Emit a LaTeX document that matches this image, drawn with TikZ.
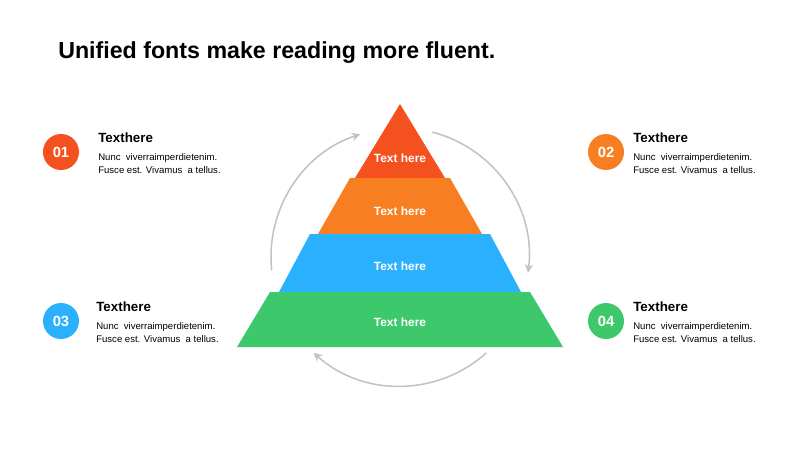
\documentclass[tikz,border=0pt]{standalone}
\usepackage{fontspec}
\setmainfont{Liberation Sans}
\usepackage{tikz}
\usetikzlibrary{positioning,arrows.meta,calc}
\definecolor{PyrRed}{HTML}{F4511E}
\definecolor{PyrOrange}{HTML}{F77F21}
\definecolor{PyrBlue}{HTML}{2BB0FE}
\definecolor{PyrGreen}{HTML}{3CC86B}
\definecolor{PyrGrey}{HTML}{BEC3CB}

\begin{document}
\begin{tikzpicture}[x=0.025cm,y=0.025cm,>={Stealth[length=6pt,width=6pt]},
 num/.style={circle,minimum size=0.9cm,inner sep=0pt,text=white,font=\bfseries\fontsize{10.5}{12}\selectfont},
 head/.style={anchor=west,inner sep=0pt,font=\bfseries\fontsize{9.5}{11}\selectfont},
 body/.style={align=left,inner sep=0pt,font=\fontsize{6.8}{9.2}\selectfont},
 lay/.style={text=white,font=\bfseries\fontsize{8.5}{10}\selectfont},
 cyc/.style={->,draw=PyrGrey,line width=1.1pt}]
\useasboundingbox (0,0) rectangle (800,450);
\node[anchor=west,inner sep=0pt,font=\bfseries\fontsize{16.5}{19}\selectfont] (title) at (58,397) {Unified fonts make reading more fluent.};
% pyramid
\fill[PyrRed] (400,346) -- (355,272) -- (445,272) -- cycle;
\fill[PyrOrange] (350,272) -- (450,272) -- (482,216) -- (318,216) -- cycle;
\fill[PyrBlue] (310,216) -- (490,216) -- (521,158) -- (279,158) -- cycle;
\fill[PyrGreen] (270,158) -- (530,158) -- (563,103) -- (237,103) -- cycle;
\node[lay] (l1) at (400,292) {Text here};
\node[lay] (l2) at (400,239) {Text here};
\node[lay] (l3) at (400,184) {Text here};
\node[lay] (l4) at (400,128) {Text here};
% cycle arrows
\coordinate (c) at (400,193);
\coordinate (a1) at ($(c)+(186:129)$);
\coordinate (a2) at ($(c)+(75.5:129)$);
\coordinate (a3) at ($(c)+(-48:129)$);
\draw[cyc] (a1) arc[start angle=186,end angle=108,radius=129];
\draw[cyc] (a2) arc[start angle=75.5,end angle=-7,radius=129];
\draw[cyc] (a3) arc[start angle=-48,end angle=-132,radius=129];
% items
\node[num,fill=PyrRed] (n1) at (61,298) {01};
\node[num,fill=PyrOrange] (n2) at (606,298) {02};
\node[num,fill=PyrBlue] (n3) at (61,129) {03};
\node[num,fill=PyrGreen] (n4) at (606,129) {04};
\node[head] (h1) at (98,312) {Texthere};
\node[head] (h2) at (633,312) {Texthere};
\node[head] (h3) at (96,143) {Texthere};
\node[head] (h4) at (633,143) {Texthere};
\node[body,below=7.5pt of h1.south west,anchor=north west] (b1) {Nunc~ viverraimperdietenim.\\Fusce est. Vivamus~ a tellus.};
\node[body,below=7.5pt of h2.south west,anchor=north west] (b2) {Nunc~ viverraimperdietenim.\\Fusce est. Vivamus~ a tellus.};
\node[body,below=7.5pt of h3.south west,anchor=north west] (b3) {Nunc~ viverraimperdietenim.\\Fusce est. Vivamus~ a tellus.};
\node[body,below=7.5pt of h4.south west,anchor=north west] (b4) {Nunc~ viverraimperdietenim.\\Fusce est. Vivamus~ a tellus.};
\end{tikzpicture}
\end{document}
